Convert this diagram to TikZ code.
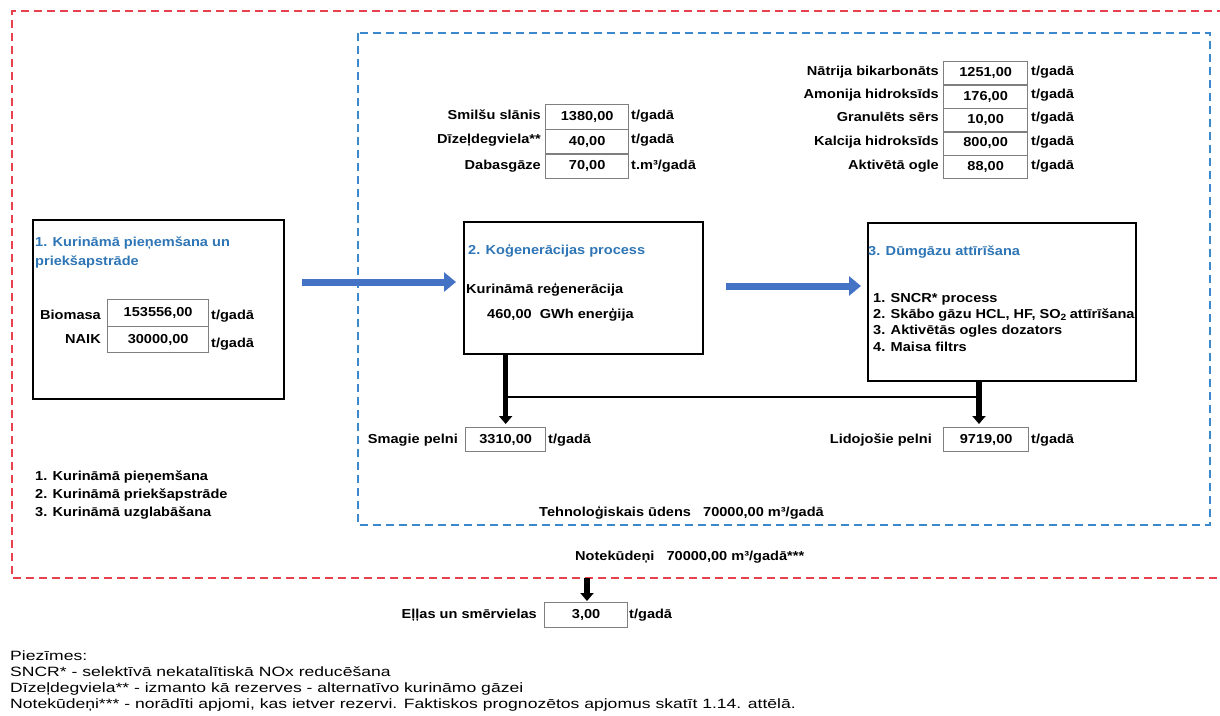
\documentclass[tikz,border=0pt]{standalone}
\usepackage{fontspec}
\setmainfont{Liberation Sans}[FakeStretch=1.12]
\newfontfamily\notefont{Liberation Sans}[FakeStretch=1.3]
\usetikzlibrary{arrows.meta}
\definecolor{tblue}{HTML}{2E75B6}
\definecolor{fblue}{HTML}{3B88CC}
\definecolor{fred}{HTML}{E8414E}
\definecolor{ablue}{HTML}{4472C4}
\definecolor{vgray}{HTML}{7F7F7F}
\begin{document}
\begin{tikzpicture}[x=1pt,y=-1pt,
  every node/.style={font=\fontsize{13}{16}\selectfont\bfseries, inner sep=0pt, text height=9.5pt, text depth=2.7pt},
  txt/.style={anchor=west},
  lbl/.style={anchor=east},
  ttl/.style={anchor=west, text=tblue},
  note/.style={anchor=west, font=\notefont\fontsize{13.5}{15}\selectfont},
  val/.style={draw=vgray, line width=1.3pt, fill=white, anchor=north west},
  bigbox/.style={draw=black, line width=2.2pt, anchor=north west},
  frame/.style={line width=2.4pt, dash pattern=on 8pt off 5pt},
  barrow/.style={ablue, line width=7pt, -{Triangle[length=12pt,width=19pt]}},
  karrow/.style={black, line width=5.5pt, -{Triangle[length=8pt,width=13pt]}}
]
\useasboundingbox (0,0) rectangle (1220,715);

% frames
\draw[frame, fred] (1225,11) -- (12,11) -- (12,578) -- (1225,578);
\draw[frame, fblue] (358,33) rectangle (1210,525);

% box 1
\node (b1) [bigbox, minimum width=251pt, minimum height=179pt] at (32,219) {};
\node (t1a) [ttl] at (35,243) {1. Kurināmā pieņemšana un};
\node (t1b) [ttl] at (35,262) {priekšapstrāde};
\node (v1) [val, minimum width=101pt, minimum height=27pt] at (107,299) {153556,00};
\node (v2) [val, minimum width=101pt, minimum height=26pt] at (107,326) {30000,00};
\node (l1) [lbl] at (101,316) {Biomasa};
\node (l2) [lbl] at (101,340) {NAIK};
\node (u1) [txt] at (211,316) {t/gadā};
\node (u2) [txt] at (211,344) {t/gadā};

% box 2
\node (b2) [bigbox, minimum width=239pt, minimum height=132pt] at (463,221) {};
\node (t2) [ttl] at (468,251) {2. Koģenerācijas process};
\node (k2a) [txt] at (466,290) {Kurināmā reģenerācija};
\node (k2b) [txt] at (487,315) {460,00 ~GWh enerģija};

% box 3
\node (b3) [bigbox, minimum width=268pt, minimum height=158pt] at (867,222) {};
\node (t3) [ttl] at (868,252) {3. Dūmgāzu attīrīšana};
\node (p1) [txt] at (873,299) {1. SNCR* process};
\node (p2) [txt] at (873,315) {2. Skābo gāzu HCL, HF, SO\textsubscript{2}\kern-1pt{} attīrīšana};
\node (p3) [txt] at (873,331) {3. Aktivētās ogles dozators};
\node (p4) [txt] at (873,348) {4. Maisa filtrs};

% top middle inputs
\node (m1) [val, minimum width=83pt, minimum height=24.7pt] at (545,104) {1380,00};
\node (m2) [val, minimum width=83pt, minimum height=24.7pt] at (545,128.7) {40,00};
\node (m3) [val, minimum width=83pt, minimum height=24.7pt] at (545,153.4) {70,00};
\node (ml1) [lbl] at (541,116) {Smilšu slānis};
\node (ml2) [lbl] at (541,140) {Dīzeļdegviela**};
\node (ml3) [lbl] at (541,166) {Dabasgāze};
\node (mu1) [txt] at (631,116) {t/gadā};
\node (mu2) [txt] at (631,140) {t/gadā};
\node (mu3) [txt] at (631,166) {t.m³/gadā};

% top right inputs
\node (r1) [val, minimum width=84pt, minimum height=23.4pt] at (943,61) {1251,00};
\node (r2) [val, minimum width=84pt, minimum height=23.4pt] at (943,84.4) {176,00};
\node (r3) [val, minimum width=84pt, minimum height=23.4pt] at (943,107.8) {10,00};
\node (r4) [val, minimum width=84pt, minimum height=23.4pt] at (943,131.2) {800,00};
\node (r5) [val, minimum width=84pt, minimum height=23.4pt] at (943,154.6) {88,00};
\node (rl1) [lbl] at (939,72) {Nātrija bikarbonāts};
\node (rl2) [lbl] at (939,95) {Amonija hidroksīds};
\node (rl3) [lbl] at (939,118) {Granulēts sērs};
\node (rl4) [lbl] at (939,142) {Kalcija hidroksīds};
\node (rl5) [lbl] at (939,166) {Aktivētā ogle};
\node (ru1) [txt] at (1031,72) {t/gadā};
\node (ru2) [txt] at (1031,95) {t/gadā};
\node (ru3) [txt] at (1031,118) {t/gadā};
\node (ru4) [txt] at (1031,142) {t/gadā};
\node (ru5) [txt] at (1031,166) {t/gadā};

% outputs
\node (smv) [val, minimum width=80pt, minimum height=24pt] at (465,427) {3310,00};
\node (sml) [lbl] at (458,440) {Smagie pelni};
\node (smu) [txt] at (548,440) {t/gadā};
\node (lpv) [val, minimum width=85pt, minimum height=24pt] at (943,427) {9719,00};
\node (lpl) [lbl] at (932,440) {Lidojošie pelni};
\node (lpu) [txt] at (1031,440) {t/gadā};

\node (tu) [txt] at (539,513) {Tehnoloģiskais ūdens~~ 70000,00 m³/gadā};
\node (nk) [txt] at (575,557) {Notekūdeņi~~ 70000,00 m³/gadā***};

\node (ev) [val, minimum width=83pt, minimum height=25pt] at (544,602) {3,00};
\node (el) [lbl] at (537,615) {Eļļas un smērvielas};
\node (eu) [txt] at (629,615) {t/gadā};

% left list
\node (k1) [txt] at (35,477) {1. Kurināmā pieņemšana};
\node (k2) [txt] at (35,495) {2. Kurināmā priekšapstrāde};
\node (k3) [txt] at (35,513) {3. Kurināmā uzglabāšana};

% notes
\node (n0) [note] at (10,657) {Piezīmes:};
\node (n1) [note] at (10,673) {SNCR* - selektīvā nekatalītiskā NOx reducēšana};
\node (n2) [note] at (10,689) {Dīzeļdegviela** - izmanto kā rezerves - alternatīvo kurināmo gāzei};
\node (n3) [note] at (10,705) {Notekūdeņi*** - norādīti apjomi, kas ietver rezervi. Faktiskos prognozētos apjomus skatīt 1.14. attēlā.};

% connectors
\coordinate (a1s) at (302,282);
\coordinate (a2s) at (726,286);
\draw[barrow, shorten >=7pt] (a1s) -- (a1s -| b2.west);
\draw[barrow, shorten >=6pt] (a2s) -- (a2s -| b3.west);

\coordinate (hy) at (0,397);
\coordinate (rx) at (979,0);
\draw[karrow, shorten >=3pt] (b2.south -| smv.north) -- (smv.north);
\draw[line width=2pt] (smv.north |- hy) -- (rx |- hy);
\draw[karrow, shorten >=3pt] (b3.south -| rx) -- (rx |- lpv.north);
\coordinate (nkc) at (587,578);
\draw[karrow, shorten >=1pt] (nkc) -- (nkc |- ev.north);
\end{tikzpicture}
\end{document}
